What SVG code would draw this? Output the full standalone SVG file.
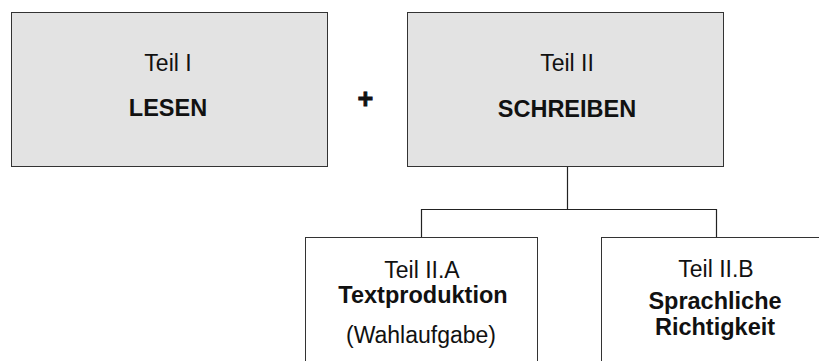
<svg xmlns="http://www.w3.org/2000/svg" width="819" height="361" viewBox="0 0 819 361">
<style>
.box{fill:#e3e3e3;stroke:#333;stroke-width:1}
.wbox{fill:#fff;stroke:#333;stroke-width:1}
.conn{fill:none;stroke:#222;stroke-width:1.2}
text{font-family:"Liberation Sans",Arial,sans-serif;font-size:23px;fill:#111;text-anchor:middle}
.b{font-weight:bold;font-size:23.5px}
.p{font-weight:bold;font-size:27px;stroke:#111;stroke-width:0.8}
</style>
<rect width="819" height="361" fill="#fff"/>
<g id="connectors">
<path class="conn" d="M567.5 166.5V209.5M421.5 237V209.5H716.5V237"/>
</g>
<g id="teil1">
<rect class="box" x="11.5" y="12.5" width="316" height="154"/>
<text x="168" y="71">Teil I</text>
<text class="b" x="168" y="116">LESEN</text>
</g>
<g id="plus">
<text class="p" x="365.5" y="108">+</text>
</g>
<g id="teil2">
<rect class="box" x="407.5" y="12.5" width="316" height="154"/>
<text x="567" y="71">Teil II</text>
<text class="b" x="567" y="117">SCHREIBEN</text>
</g>
<g id="teil2a">
<rect class="wbox" x="305.5" y="237.5" width="232" height="140"/>
<text x="422" y="278">Teil II.A</text>
<text class="b" x="423" y="303">Textproduktion</text>
<text x="421" y="343">(Wahlaufgabe)</text>
</g>
<g id="teil2b">
<rect class="wbox" x="601.5" y="237.5" width="232" height="140"/>
<text x="716" y="277">Teil II.B</text>
<text class="b" x="715" y="309">Sprachliche</text>
<text class="b" x="715" y="335">Richtigkeit</text>
</g>
</svg>
